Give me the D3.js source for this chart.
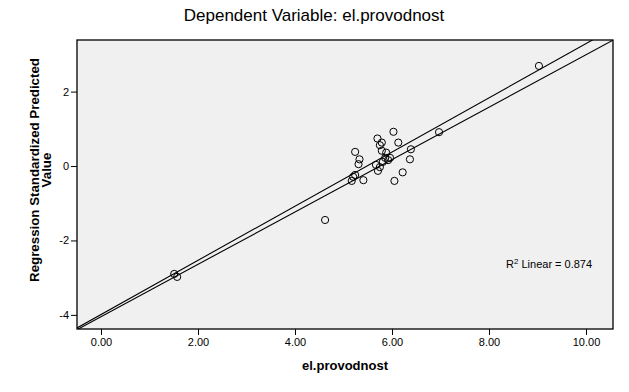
<!DOCTYPE html>
<html>
<head>
<meta charset="utf-8">
<script src="https://cdn.jsdelivr.net/npm/d3@7"></script>
<style>
  body { margin: 0; background: #fff; }
  text { font-family: Arial, "Liberation Sans", sans-serif; fill: #000; }
</style>
</head>
<body>
<svg id="chart" width="629" height="392"></svg>
<script>
// observed (el.provodnost) vs regression standardized predicted value
const xVals = [6.03, 5.70, 5.79, 5.75, 6.13, 5.24, 5.79, 5.88, 6.39, 5.33,
               5.31, 5.86, 5.92, 5.81, 5.67, 5.75, 5.96, 6.37, 5.71, 6.22,
               5.24, 5.20, 5.41, 5.17, 6.05, 6.97, 9.03, 4.62, 1.51, 1.57];
const yVals = [0.92, 0.74, 0.63, 0.56, 0.63, 0.38, 0.41, 0.36, 0.45, 0.18,
               0.05, 0.22, 0.16, 0.11, 0.03, -0.03, 0.22, 0.18, -0.13, -0.17,
               -0.24, -0.29, -0.38, -0.40, -0.40, 0.91, 2.69, -1.45, -2.90, -2.98];

// the two fit lines: y = intercept + slope * x
const lineIntercepts = [-3.99, -4.05];
const lineSlopes = [0.728, 0.704];

const xTicks = [0, 2, 4, 6, 8, 10];
const yTicks = [2, 0, -2, -4];
const xDomain = [-0.495, 10.557];
const yDomain = [-4.38, 3.387];

const titleText = 'Dependent Variable: el.provodnost';
const xLabel = 'el.provodnost';
const yLabelLines = ['Regression Standardized Predicted', 'Value'];
const r2Value = '0.874';

const svg = d3.select('#chart');
const plot = {left: 77, right: 613, top: 40, bottom: 329};

const x = d3.scaleLinear().domain(xDomain).range([plot.left, plot.right]);
const y = d3.scaleLinear().domain(yDomain).range([plot.bottom, plot.top]);

svg.append('defs').append('clipPath').attr('id', 'clip')
  .append('rect')
  .attr('x', plot.left).attr('y', plot.top)
  .attr('width', plot.right - plot.left).attr('height', plot.bottom - plot.top);

// plot background
svg.append('rect')
  .attr('x', plot.left).attr('y', plot.top)
  .attr('width', plot.right - plot.left).attr('height', plot.bottom - plot.top)
  .attr('fill', '#f0f0f0');

// fit lines
const lines = lineSlopes.map((s, i) => ({slope: s, intercept: lineIntercepts[i]}));
svg.append('g').attr('clip-path', 'url(#clip)')
  .selectAll('line')
  .data(lines)
  .enter()
  .append('line')
  .attr('x1', x(xDomain[0]))
  .attr('y1', d => y(d.intercept + d.slope * xDomain[0]))
  .attr('x2', x(xDomain[1]))
  .attr('y2', d => y(d.intercept + d.slope * xDomain[1]))
  .attr('stroke', '#000')
  .attr('stroke-width', 1.1);

// points
const pts = xVals.map((v, i) => ({x: v, y: yVals[i]}));
svg.append('g')
  .selectAll('circle')
  .data(pts)
  .enter()
  .append('circle')
  .attr('cx', d => x(d.x))
  .attr('cy', d => y(d.y))
  .attr('r', 3.6)
  .attr('fill', 'none')
  .attr('stroke', '#000')
  .attr('stroke-width', 1);

// border
svg.append('rect')
  .attr('x', plot.left).attr('y', plot.top)
  .attr('width', plot.right - plot.left).attr('height', plot.bottom - plot.top)
  .attr('fill', 'none')
  .attr('stroke', '#000')
  .attr('stroke-width', 1.3);

// axes
const xAxis = d3.axisBottom(x).tickValues(xTicks).tickFormat(d3.format('.2f'))
  .tickSize(6).tickSizeOuter(0).tickPadding(3);
const gx = svg.append('g')
  .attr('transform', `translate(0,${plot.bottom})`)
  .call(xAxis);
gx.select('.domain').remove();
gx.selectAll('text').style('font-size', '11px').attr('fill', '#000');
gx.selectAll('line').attr('stroke', '#000');

// plain hyphen for negatives, like the original
const yAxis = d3.axisLeft(y).tickValues(yTicks).tickFormat(d => String(d))
  .tickSize(6).tickSizeOuter(0).tickPadding(2);
const gy = svg.append('g')
  .attr('transform', `translate(${plot.left},0)`)
  .call(yAxis);
gy.select('.domain').remove();
gy.selectAll('text').style('font-size', '11px').attr('fill', '#000');
gy.selectAll('line').attr('stroke', '#000');

// title
svg.append('text')
  .attr('x', 314)
  .attr('y', 21)
  .attr('text-anchor', 'middle')
  .style('font-size', '17px')
  .text(titleText);

// x label
svg.append('text')
  .attr('x', (plot.left + plot.right) / 2)
  .attr('y', 370)
  .attr('text-anchor', 'middle')
  .style('font-size', '13px')
  .style('font-weight', 'bold')
  .text(xLabel);

// y label, two lines
svg.append('g')
  .attr('transform', 'translate(0,170) rotate(-90)')
  .selectAll('text')
  .data(yLabelLines)
  .enter()
  .append('text')
  .attr('x', 0)
  .attr('y', (d, i) => 39 + i * 12)
  .attr('text-anchor', 'middle')
  .style('font-size', '13.3px')
  .style('font-weight', 'bold')
  .text(d => d);

// R squared note
const r2 = svg.append('text')
  .attr('x', 506)
  .attr('y', 268)
  .style('font-size', '11px');
r2.append('tspan').text('R');
r2.append('tspan').attr('dy', -4).style('font-size', '8px').text('2');
r2.append('tspan').attr('dy', 4).text(' Linear = ' + r2Value);
</script>
</body>
</html>
